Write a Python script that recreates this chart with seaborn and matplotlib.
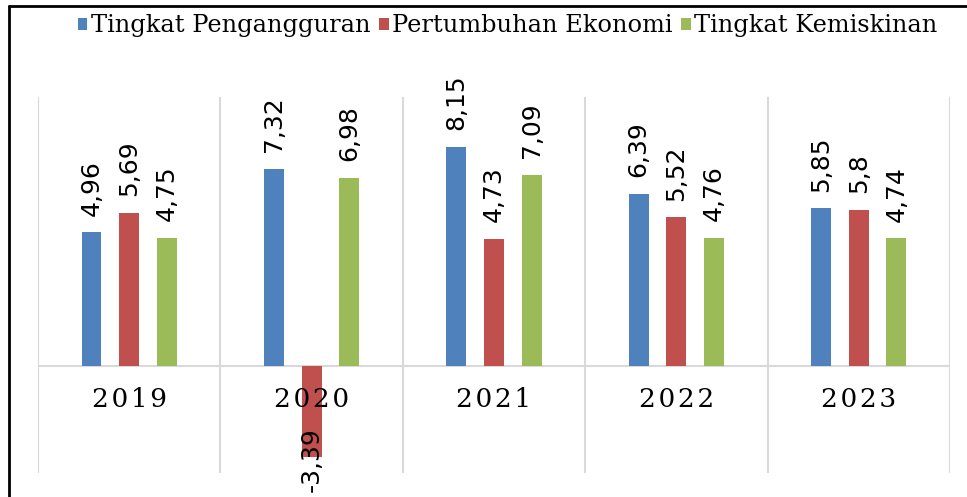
import pandas as pd
import matplotlib.pyplot as plt
import seaborn as sns
from matplotlib.lines import Line2D

years = ["2019", "2020", "2021", "2022", "2023"]
series = ["Tingkat Pengangguran", "Pertumbuhan Ekonomi", "Tingkat Kemiskinan"]
pengangguran = [4.96, 7.32, 8.15, 6.39, 5.85]
ekonomi = [5.69, -3.39, 4.73, 5.52, 5.8]
kemiskinan = [4.75, 6.98, 7.09, 4.76, 4.74]
colors = ["#4F81BD", "#C0504D", "#9BBB59"]

df = pd.DataFrame({
    "Tahun": years * 3,
    "Seri": [s for s in series for _ in years],
    "Nilai": pengangguran + ekonomi + kemiskinan,
})

sns.set_style("white")
plt.rcParams["text.color"] = "black"
fig = plt.figure(figsize=(9.67, 4.97), dpi=100)
ax = fig.add_axes([0.0393, 0.0483, 0.9431, 0.7565])

sns.barplot(data=df, x="Tahun", y="Nilai", hue="Seri", palette=colors,
            saturation=1, width=0.62, gap=0.47, errorbar=None, linewidth=0, ax=ax)

ax.set_ylim(-4, 10)
ax.set_xlim(-0.5, len(years) - 0.5)
for s in ax.spines.values():
    s.set_visible(False)
ax.set_xticks([])
ax.set_yticks([])
ax.set_xlabel("")
ax.set_ylabel("")

# category separators and zero line
for i in range(len(years) + 1):
    ax.axvline(i - 0.5, color="#D9D9D9", lw=1.5, zorder=0)
ax.axhline(0, color="#D9D9D9", lw=1.5, zorder=0)

# year labels under the zero line
for i, y in enumerate(years):
    ax.text(i, -1.25, "\u200a".join(y), ha="center", va="center",
            fontsize=19, family="DejaVu Serif", color="black")

# value labels
for cont in ax.containers:
    for bar in cont:
        h = bar.get_height()
        x = bar.get_x() + bar.get_width() / 2
        txt = f"{h:g}".replace(".", ",")
        if h >= 0:
            ax.annotate(txt, (x, h), xytext=(0, 12), textcoords="offset points",
                        rotation=90, ha="center", va="bottom", fontsize=18,
                        color="black", annotation_clip=False)
        else:
            ax.annotate(txt, (x, h), xytext=(0, 21), textcoords="offset points",
                        rotation=90, ha="center", va="top", fontsize=18,
                        color="black", annotation_clip=False)

handles, labels = ax.get_legend_handles_labels()
if ax.get_legend() is not None:
    ax.get_legend().remove()
fig.legend(handles, labels, loc="center", bbox_to_anchor=(0.525, 0.948), ncol=3,
           frameon=False, handlelength=0.4, handleheight=0.4, handletextpad=0.15,
           columnspacing=0.35, labelcolor="black",
           prop={"family": "DejaVu Serif", "size": 17.4})

# outer frame (left and top edges visible)
fig.add_artist(Line2D([0.0088, 0.0088], [0, 0.988], transform=fig.transFigure,
                      color="black", lw=2))
fig.add_artist(Line2D([0.0088, 1], [0.988, 0.988], transform=fig.transFigure,
                      color="black", lw=2))

plt.savefig("out.png", dpi=100)
